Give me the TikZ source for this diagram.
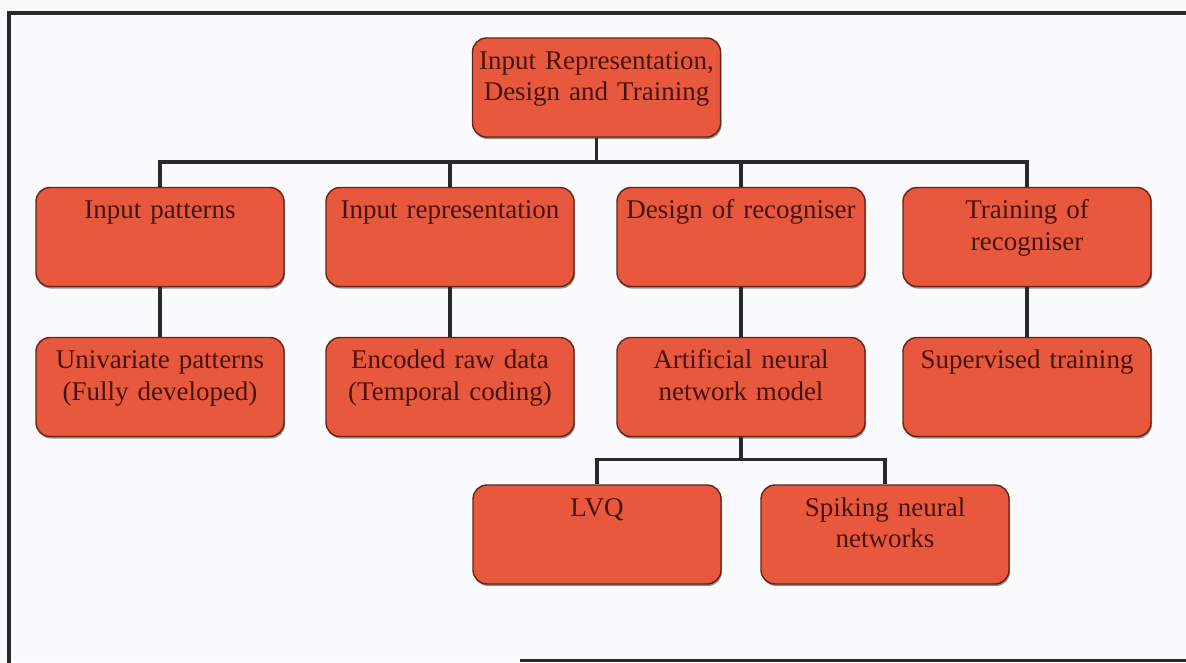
\documentclass[tikz,border=0pt]{standalone}
\usepackage{fontspec}
\setmainfont{Liberation Serif}
\usetikzlibrary{calc,shadows}

\definecolor{pagebg}{RGB}{251,251,253}
\definecolor{boxfill}{RGB}{232,88,60}
\definecolor{boxedge}{RGB}{100,35,25}
\definecolor{labelcol}{RGB}{70,20,14}
\definecolor{linecol}{RGB}{42,42,46}

\tikzset{
  stepbox/.style={rectangle, rounded corners=14pt, draw=boxedge, line width=1.4pt,
    fill=boxfill, minimum width=248pt, minimum height=99pt, inner sep=0pt,
    drop shadow={shadow xshift=1pt, shadow yshift=-2pt, fill=black!70, opacity=0.6}},
  boxtext/.style={font=\fontsize{27}{31.5}\selectfont, text=labelcol,
    text width=246pt, align=center, inner sep=0pt, anchor=base},
  conn/.style={draw=linecol, line width=3.6pt},
  framestyle/.style={draw=linecol, line width=3.6pt}
}

\begin{document}
\begin{tikzpicture}[x=1pt, y=-1pt]
  \useasboundingbox (0,0) rectangle (1186,662);
  \fill[pagebg] (0,0) rectangle (1186,662);

  % surrounding frame
  \draw[framestyle] (1190,13) -- (9,13) -- (9,666);
  \draw[framestyle, line width=3pt] (520,660) -- (1190,660);

  % boxes
  \node[stepbox] (top) at (596.5,87.5) {};
  \node[stepbox] (ip)  at (160,237) {};
  \node[stepbox] (rep) at (450,237) {};
  \node[stepbox] (des) at (741,237) {};
  \node[stepbox] (tr)  at (1027,237) {};
  \node[stepbox] (uni) at (160,387) {};
  \node[stepbox] (enc) at (450,387) {};
  \node[stepbox] (art) at (741,387) {};
  \node[stepbox] (sup) at (1027,387) {};
  \node[stepbox] (lvq) at (597,534.5) {};
  \node[stepbox] (snn) at (885,534.5) {};

  % labels, set from the top of each box
  \node[boxtext] (topt) at ($(top.north)+(0,32)$) {Input Representation,\\Design and Training};
  \node[boxtext] (ipt)  at ($(ip.north)+(0,32)$)  {Input patterns};
  \node[boxtext] (rept) at ($(rep.north)+(0,32)$) {Input representation};
  \node[boxtext] (dest) at ($(des.north)+(0,32)$) {Design of recogniser};
  \node[boxtext] (trt)  at ($(tr.north)+(0,32)$)  {Training of\\recogniser};
  \node[boxtext] (unit) at ($(uni.north)+(0,32)$) {Univariate patterns\\(Fully developed)};
  \node[boxtext] (enct) at ($(enc.north)+(0,32)$) {Encoded raw data\\(Temporal coding)};
  \node[boxtext] (artt) at ($(art.north)+(0,32)$) {Artificial neural\\network model};
  \node[boxtext] (supt) at ($(sup.north)+(0,32)$) {Supervised training};
  \node[boxtext] (lvqt) at ($(lvq.north)+(0,32)$) {LVQ};
  \node[boxtext] (snnt) at ($(snn.north)+(0,32)$) {Spiking neural\\networks};

  % tree connectors
  \draw[conn] (ip.north) -- ++(0,-25) coordinate (bus1) -| (tr.north);
  \draw[conn] (top.south) -- (top.south |- bus1);
  \draw[conn] (rep.north) -- (rep.north |- bus1);
  \draw[conn] (des.north) -- (des.north |- bus1);

  \draw[conn] (ip.south)  -- (uni.north);
  \draw[conn] (rep.south) -- (enc.north);
  \draw[conn] (des.south) -- (art.north);
  \draw[conn] (tr.south)  -- (sup.north);

  \draw[conn] (lvq.north) -- ++(0,-25) coordinate (bus2) -| (snn.north);
  \draw[conn] (art.south) -- (art.south |- bus2);
\end{tikzpicture}
\end{document}
